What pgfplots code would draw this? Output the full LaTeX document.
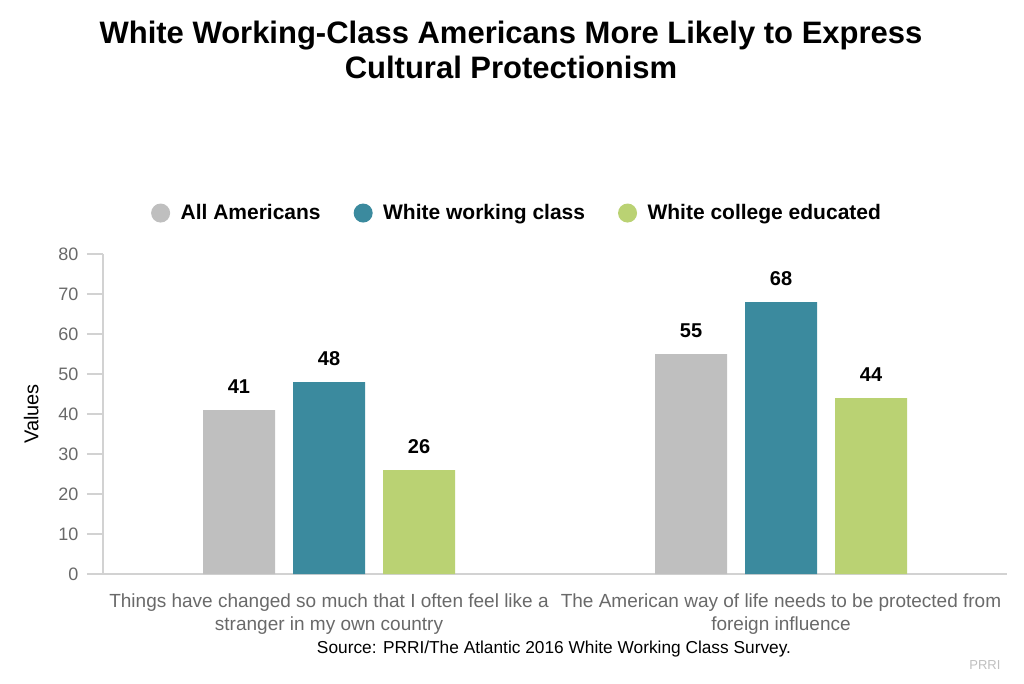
\documentclass[border=0pt]{standalone}
\usepackage{pgfplots}
\pgfplotsset{compat=1.18}
\usepackage{fontspec}
\setmainfont{Liberation Sans}
\definecolor{cgray}{RGB}{191,191,191}
\definecolor{cteal}{RGB}{59,138,158}
\definecolor{cgreen}{RGB}{186,210,115}
\definecolor{ticklab}{RGB}{105,105,105}
\definecolor{axline}{RGB}{210,210,210}
\begin{document}
\begin{tikzpicture}[x=1pt,y=1pt]
\path[use as bounding box] (0,0) rectangle (1024,683);
\node[font=\fontsize{31}{35}\selectfont\bfseries, align=center] at (511,633) {White Working-Class Americans More Likely to Express\\Cultural Protectionism};
\begin{axis}[
  at={(103pt,109pt)}, anchor=south west,
  scale only axis, width=904pt, height=320pt,
  ymin=0, ymax=80, ytick={0,10,...,80},
  xmin=-0.5, xmax=1.5,
  xtick={0,1},
  xticklabels={{Things have changed so much that I often feel like a\\stranger in my own country},{The American way of life needs to be protected from\\foreign influence}},
  xticklabel style={align=center, font=\fontsize{19}{23}\selectfont, text=ticklab},
  yticklabel style={font=\fontsize{18}{20}\selectfont, text=ticklab, xshift=-5pt},
  /pgf/number format/assume math mode=true,
  axis x line*=bottom, axis y line*=left,
  axis line style={axline, line width=1.2pt, -},
  x axis line style={-},
  ytick style={axline, line width=1.2pt},
  xtick style={draw=none},
  tick align=outside, major tick length=16pt,
  ylabel={Values}, ylabel style={font=\fontsize{20}{22}\selectfont, at={(-61pt,0.5)}, anchor=south},
  ybar, bar width=72pt,
  nodes near coords,
  every node near coord/.append style={font=\fontsize{20}{22}\selectfont\bfseries, text=black, yshift=13pt},
  legend style={draw=none, at={(0.458,1.128)}, anchor=center, legend columns=3, font=\fontsize{21}{23}\selectfont\bfseries,
    /tikz/every even column/.append style={column sep=31pt}},
  legend image code/.code={\fill[#1] (0pt,0pt) circle (9.5pt); \path (18pt,0pt);},
  clip=false,
]
\addplot[fill=cgray, draw=none, bar shift=-90pt] coordinates {(0,41) (1,55)};
\addplot[fill=cteal, draw=none, bar shift=0pt] coordinates {(0,48) (1,68)};
\addplot[fill=cgreen, draw=none, bar shift=90pt] coordinates {(0,26) (1,44)};
\legend{All Americans, White working class, White college educated}
\end{axis}
\node[font=\fontsize{17.3}{20}\selectfont] at (554,34) {Source: PRRI/The Atlantic 2016 White Working Class Survey.};
\node[font=\fontsize{13}{15}\selectfont, text=cgray, anchor=east] at (1004,18) {PRRI};
\end{tikzpicture}
\end{document}
